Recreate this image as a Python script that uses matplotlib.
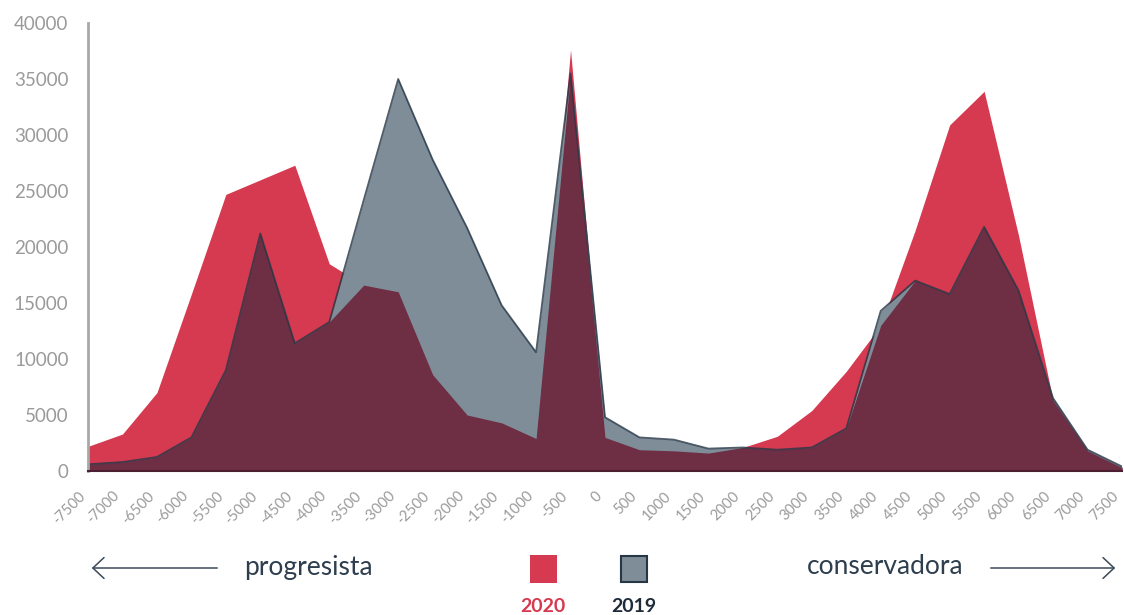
import numpy as np
import matplotlib
matplotlib.use('Agg')
import matplotlib.pyplot as plt

# eje x: posición ideológica
posiciones = [-7500, -7000, -6500, -6000, -5500, -5000, -4500, -4000, -3500, -3000,
              -2500, -2000, -1500, -1000, -500, 0, 500, 1000, 1500, 2000,
              2500, 3000, 3500, 4000, 4500, 5000, 5500, 6000, 6500, 7000, 7500]

valores_2020 = [2200, 3300, 7000, 15800, 24700, 26000, 27300, 18500, 16600, 16000,
                8600, 5000, 4300, 2900, 37600, 3000, 1900, 1800, 1600, 2100,
                3100, 5400, 8900, 13000, 21500, 30900, 33900, 21000, 6300, 1800, 300]

valores_2019 = [600, 800, 1250, 3000, 9000, 21200, 11400, 13300, 24200, 35000,
                27800, 21700, 14800, 10600, 35500, 4800, 3000, 2800, 2000, 2100,
                1900, 2100, 3800, 14300, 17000, 15800, 21800, 16100, 6500, 1900, 400]

yticks = [0, 5000, 10000, 15000, 20000, 25000, 30000, 35000, 40000]

rojo = '#d63a50'
gris = '#7f8d99'
granate = '#6e2e44'
oscuro = '#263645'
texto_gris = '#9a9a9a'

plt.rcParams['font.family'] = ['Lato', 'DejaVu Sans']

x = np.array(posiciones)
a = np.array(valores_2020)
b = np.array(valores_2019)

fig = plt.figure(figsize=(11.24, 6.15), dpi=100)
ax = fig.add_axes([88/1124, 1-471/615, (1122-88)/1124, (471-23)/615])

ax.fill_between(x, 0, a, color=rojo, lw=0)
ax.fill_between(x, 0, b, color=gris, lw=0)
ax.fill_between(x, 0, np.minimum(a, b), color=granate, lw=0)
ax.plot(x, b, color=oscuro, lw=1.3, alpha=0.8)

ax.set_xlim(-7500, 7500)
ax.set_ylim(0, 40000)
ax.set_xticks(posiciones)
ax.set_xticklabels([str(p) for p in posiciones], rotation=45, ha='right', va='bottom',
                   rotation_mode='anchor', color=texto_gris, fontsize=10.5)
ax.set_yticks(yticks)
ax.set_yticklabels([str(t) for t in yticks], color=texto_gris, fontsize=13.5)
ax.tick_params(length=0, axis='y', pad=14)
ax.tick_params(length=0, axis='x', pad=20)

for s in ['top', 'right']:
    ax.spines[s].set_visible(False)
ax.spines['left'].set_color('#a8a8a8')
ax.spines['left'].set_linewidth(2)
ax.spines['bottom'].set_color('#4a1f30')
ax.spines['bottom'].set_linewidth(1.5)

# leyenda y flechas inferiores
W, H = 1124, 615
def fx(px):
    return px / W
def fy(py):
    return 1 - py / H

flecha = dict(arrowstyle='->,head_length=0.8,head_width=0.75', mutation_scale=10,
              color='#3c4a58', lw=1.1)
fig.patches.append(matplotlib.patches.FancyArrowPatch(
    (fx(220), fy(568)), (fx(89), fy(568)), transform=fig.transFigure, **flecha))
fig.patches.append(matplotlib.patches.FancyArrowPatch(
    (fx(988), fy(568)), (fx(1118), fy(568)), transform=fig.transFigure, **flecha))

fig.text(fx(244), fy(567), 'progresista', fontsize=19, color='#2e3e4e',
         ha='left', va='center')
fig.text(fx(963), fy(567), 'conservadora', fontsize=19, color='#2e3e4e',
         ha='right', va='center')

fig.patches.append(matplotlib.patches.Rectangle(
    (fx(530), fy(583)), fx(27), 28/H, transform=fig.transFigure,
    facecolor=rojo, edgecolor='none'))
fig.patches.append(matplotlib.patches.Rectangle(
    (fx(621), fy(582)), fx(26), 26/H, transform=fig.transFigure,
    facecolor=gris, edgecolor=oscuro, lw=1.5))

fig.text(fx(543), fy(606), '2020', fontsize=14, color=rojo, fontweight='bold',
         ha='center', va='center')
fig.text(fx(634), fy(606), '2019', fontsize=14, color='#1e2c3a', fontweight='bold',
         ha='center', va='center')

fig.savefig('out.png', dpi=100, facecolor='white')
